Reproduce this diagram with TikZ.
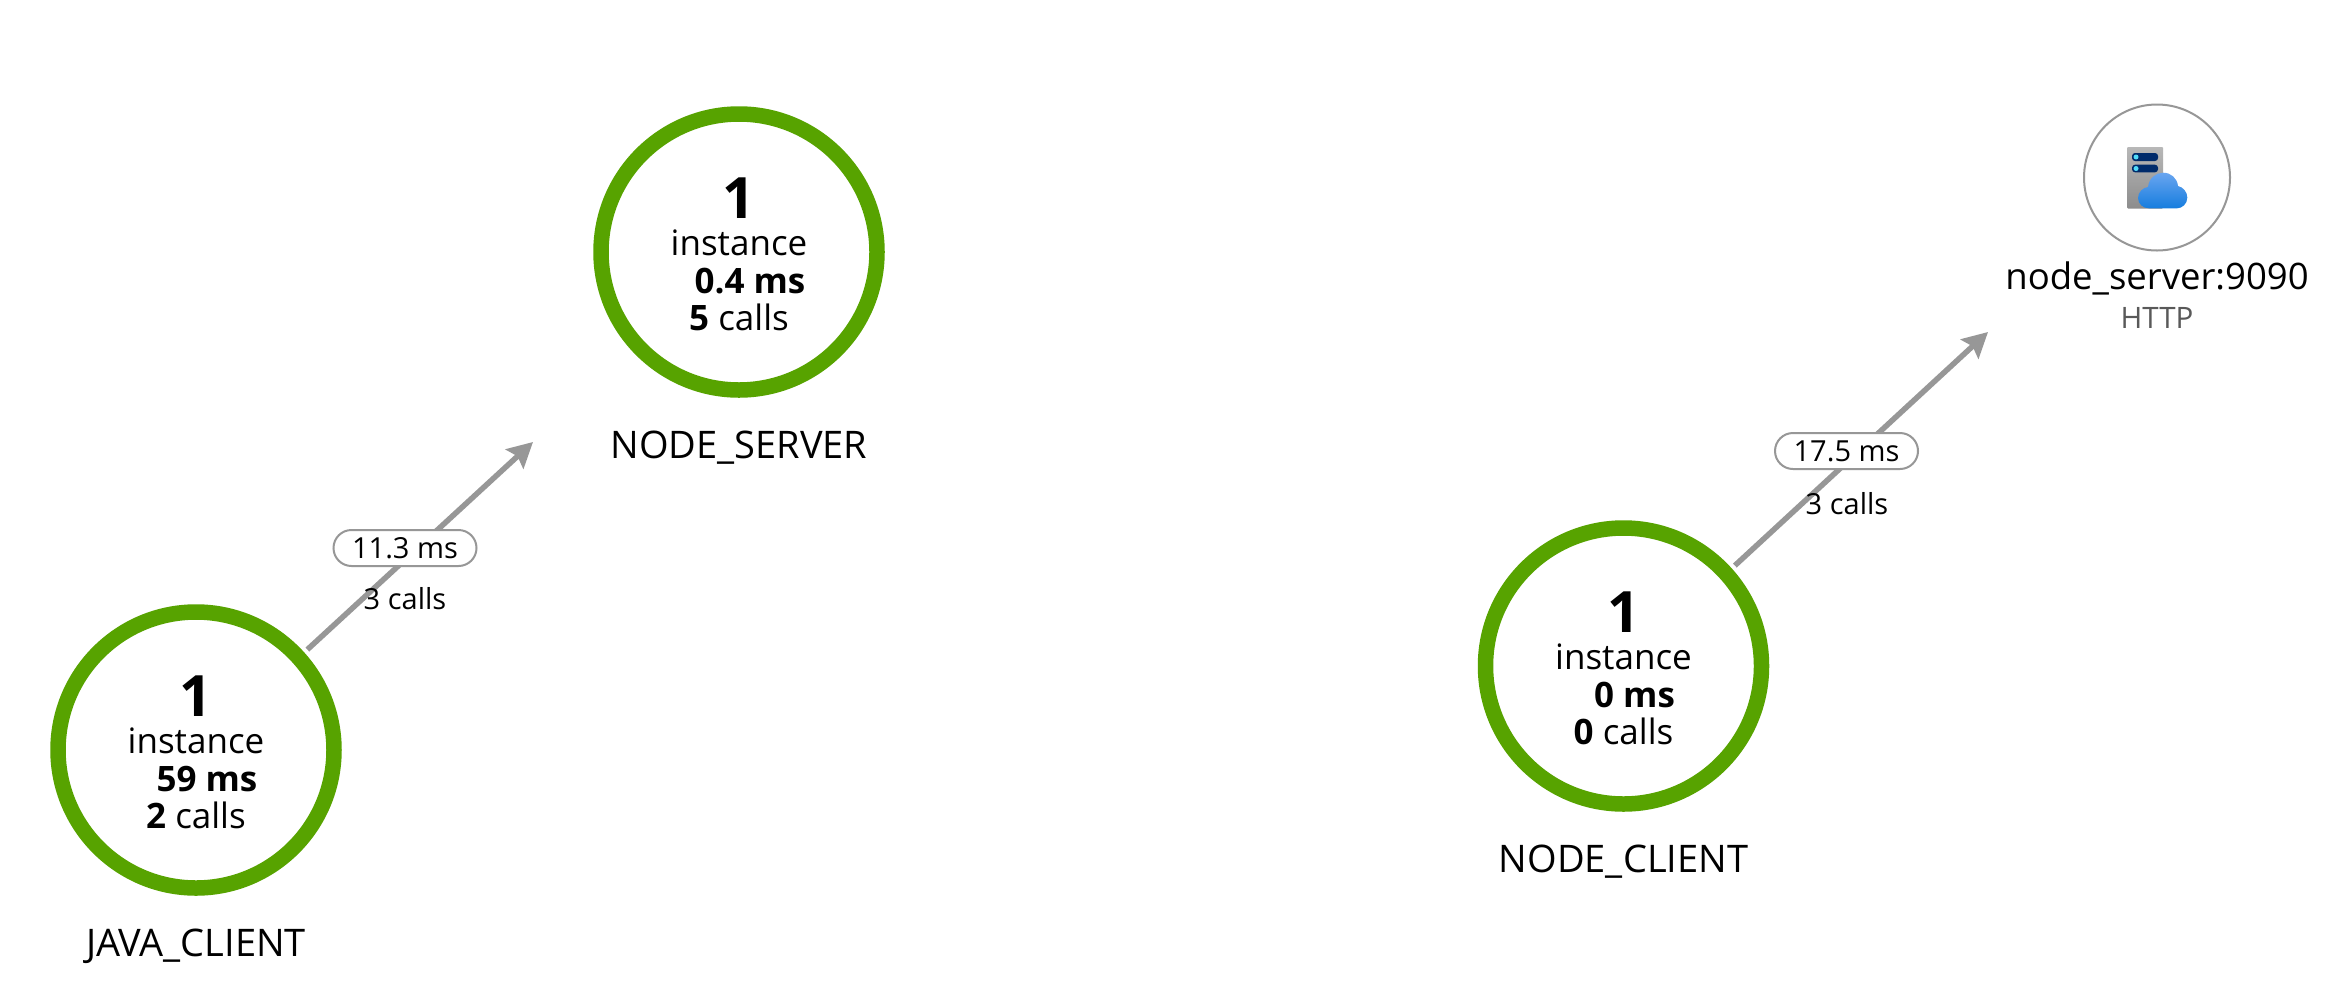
\documentclass[tikz,border=0pt]{standalone}
\usepackage{fontspec}
\setmainfont{Open Sans}
\usetikzlibrary{arrows.meta,shapes.misc}
\definecolor{okgreen}{HTML}{57A300}
\definecolor{edgegray}{HTML}{979797}
\definecolor{slotnavy}{RGB}{0,43,107}
\definecolor{slotdot}{RGB}{80,220,250}
\definecolor{cloudtop}{RGB}{105,165,240}
\definecolor{cloudbot}{RGB}{22,125,222}
\tikzset{
  x=1pt,y=-1pt,
  service/.style={circle,draw=okgreen,line width=15.5pt,minimum size=276pt,inner sep=0pt,outer sep=0pt,fill=white},
  ext/.style={circle,draw=edgegray,line width=2pt,minimum size=146pt,inner sep=0pt,outer sep=0pt,fill=white},
  bigtxt/.style={anchor=base,inner sep=0pt,font=\fontsize{57}{57}\selectfont},
  midtxt/.style={anchor=base,inner sep=0pt,font=\fontsize{35}{35}\selectfont},
  nametxt/.style={anchor=base,inner sep=0pt,font=\fontsize{36.5}{36.5}\selectfont},
  capname/.style={anchor=base,inner sep=0pt,font=\fontsize{38}{38}\selectfont},
  subtxt/.style={anchor=base,inner sep=0pt,text=black!65,font=\fontsize{29.5}{29.5}\selectfont},
  edgelab/.style={anchor=base,inner sep=0pt,font=\fontsize{29}{29}\selectfont},
  pill/.style={rounded rectangle,draw=edgegray,line width=2pt,fill=white,minimum width=143pt,minimum height=36pt,inner sep=0pt,outer sep=0pt,font=\fontsize{29}{29}\selectfont},
  conn/.style={draw=edgegray,line width=5.5pt,-{Stealth[length=25pt,width=26pt,inset=4pt]}}
}
\begin{document}
\begin{tikzpicture}
\useasboundingbox (0,0) rectangle (2342,986);
\fill[white] (0,0) rectangle (2342,986);
% circles
\node[service] (java) at (196,750) {};
\node[service] (nserver) at (739,252) {};
\node[service] (nclient) at (1623.5,666) {};
\node[ext] (http) at (2157,177.5) {};
% free connector ends
\coordinate (tipA) at (533,442);
\coordinate (tipB) at (1988,332);
\draw[conn,shorten <=12pt] (java.42.5) -- (tipA);
\draw[conn,shorten <=12pt] (nclient.42.5) -- (tipB);
% edge labels
\node[pill] (pillA) at (405,548) {11.3 ms};
\node[edgelab] (callsA) at (405,609) {3 calls};
\node[pill] (pillB) at (1846.5,451) {17.5 ms};
\node[edgelab] (callsB) at (1847,514) {3 calls};
% JAVA_CLIENT
\node[bigtxt] (j1) at (196,716) {\textbf{1}};
\node[midtxt] (j2) at (196,753) {instance};
\node[midtxt] (j3) at (207,791) {\textbf{59 ms}};
\node[midtxt] (j4) at (196,828) {\textbf{2} calls};
\node[capname] (j5) at (196,956) {JAVA\_CLIENT};
% NODE_SERVER
\node[bigtxt] (s1) at (739,218) {\textbf{1}};
\node[midtxt] (s2) at (739,255) {instance};
\node[midtxt] (s3) at (750,293) {\textbf{0.4 ms}};
\node[midtxt] (s4) at (739,330) {\textbf{5} calls};
\node[capname] (s5) at (739,458) {NODE\_SERVER};
% NODE_CLIENT
\node[bigtxt] (c1) at (1623.5,632) {\textbf{1}};
\node[midtxt] (c2) at (1623.5,669) {instance};
\node[midtxt] (c3) at (1634.5,707) {\textbf{0 ms}};
\node[midtxt] (c4) at (1623.5,744) {\textbf{0} calls};
\node[capname] (c5) at (1623.5,872) {NODE\_CLIENT};
% external
\node[nametxt] (h1) at (2157,289) {node\_server:9090};
\node[subtxt] (h2) at (2157,328) {HTTP};
% icon
\shade[top color=black!28,bottom color=black!45,rounded corners=1pt] (2127,147) rectangle (2163,208.5);
\fill[rounded corners=3pt,fill=slotnavy] (2132,153) rectangle (2158,161);
\fill[rounded corners=3pt,fill=slotnavy] (2132,164.7) rectangle (2158,172.3);
\fill[slotdot] (2136,157) circle (2.5pt);
\fill[slotdot] (2136,168.5) circle (2.5pt);
\shade[top color=cloudtop,bottom color=cloudbot]
 (2149,208.3) .. controls (2143,208.3) and (2138,204) .. (2138,198)
 .. controls (2138,192) and (2143,187.5) .. (2148,187)
 .. controls (2149,178) and (2156,172.7) .. (2163,172.7)
 .. controls (2171,172.7) and (2177,178) .. (2178,186)
 .. controls (2183,187) and (2187.3,192) .. (2187.3,197.5)
 .. controls (2187.3,204) and (2182,208.3) .. (2177,208.3) -- cycle;
\end{tikzpicture}
\end{document}
